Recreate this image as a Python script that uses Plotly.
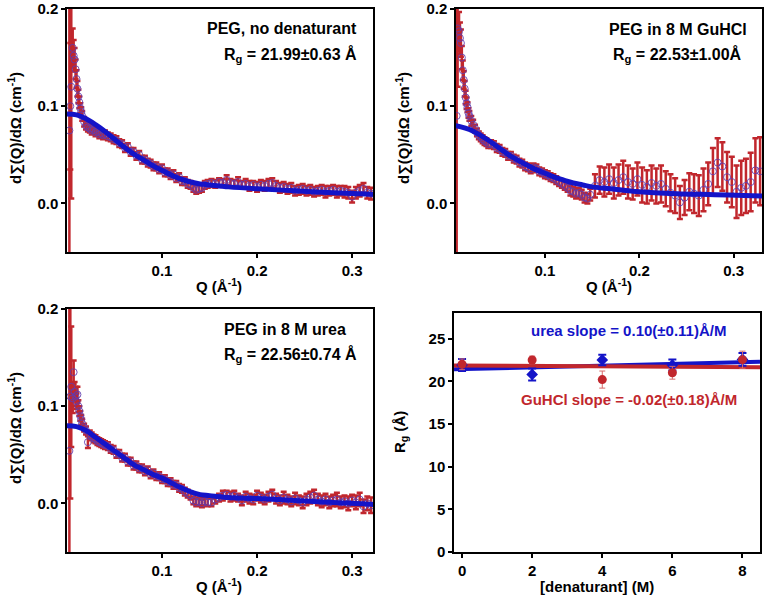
import plotly.graph_objects as go

RED = "#c1272d"
BLUE = "#1414c8"
MARK = "rgba(95,60,175,0.85)"
FONT = "Liberation Sans"

# Q grid (1/A) for the no-denaturant and urea curves
q_a = [0.0025, 0.0035, 0.0045,
       0.006, 0.007, 0.008, 0.009, 0.010, 0.011, 0.012, 0.013, 0.014, 0.015, 0.016,
       0.018, 0.020, 0.022, 0.024, 0.026, 0.028, 0.030, 0.032, 0.034, 0.036, 0.038, 0.040,
       0.043, 0.046, 0.049, 0.052, 0.055, 0.058, 0.061, 0.064, 0.067, 0.070, 0.073, 0.076,
       0.079, 0.082, 0.085, 0.088, 0.091, 0.094, 0.097, 0.100, 0.103, 0.106, 0.109, 0.112,
       0.115, 0.118, 0.121, 0.124, 0.127, 0.130, 0.133, 0.136, 0.139, 0.142, 0.145, 0.148,
       0.152, 0.156, 0.160, 0.164, 0.168, 0.172, 0.176, 0.180, 0.184, 0.188, 0.192, 0.196,
       0.200, 0.204, 0.208, 0.212, 0.216, 0.220, 0.224, 0.228, 0.232, 0.236, 0.240, 0.244,
       0.248, 0.252, 0.256, 0.260, 0.264, 0.268, 0.272, 0.276, 0.280, 0.284, 0.288, 0.292,
       0.296, 0.300, 0.304, 0.308, 0.312, 0.316, 0.320]

# PEG, no denaturant
i_none = [0.075, 0.100, 0.120,
          0.160, 0.152, 0.148, 0.138, 0.128, 0.118, 0.110, 0.104, 0.098, 0.094, 0.090,
          0.084, 0.080, 0.078, 0.077, 0.075, 0.076, 0.073, 0.074, 0.071, 0.072, 0.070, 0.071,
          0.069, 0.068, 0.066, 0.065, 0.062, 0.061, 0.057, 0.058, 0.053, 0.053, 0.049, 0.050,
          0.045, 0.045, 0.042, 0.041, 0.038, 0.038, 0.035, 0.036, 0.032, 0.032, 0.029, 0.030,
          0.026, 0.027, 0.023, 0.023, 0.020, 0.019, 0.016, 0.014, 0.015, 0.016, 0.019, 0.020,
          0.021, 0.020, 0.022, 0.021, 0.024, 0.021, 0.020, 0.022, 0.019, 0.020, 0.018, 0.019,
          0.017, 0.019, 0.018, 0.020, 0.021, 0.018, 0.016, 0.017, 0.015, 0.016, 0.013, 0.014,
          0.015, 0.013, 0.014, 0.012, 0.013, 0.014, 0.012, 0.013, 0.014, 0.012, 0.013, 0.012,
          0.011, 0.007, 0.011, 0.013, 0.015, 0.011, 0.010]
e_none = [0.300, 0.065, 0.115,
          0.020, 0.016, 0.012, 0.010, 0.009, 0.008, 0.007, 0.006, 0.005, 0.005, 0.005,
          0.005, 0.004, 0.004, 0.004, 0.004, 0.004, 0.004, 0.004, 0.004, 0.004, 0.004, 0.004,
          0.004, 0.004, 0.004, 0.004, 0.004, 0.004, 0.004, 0.004, 0.004, 0.004, 0.004, 0.004,
          0.004, 0.004, 0.004, 0.004, 0.004, 0.004, 0.004, 0.004, 0.004, 0.004, 0.004, 0.004,
          0.004, 0.004, 0.004, 0.004, 0.004, 0.004, 0.004, 0.004, 0.004, 0.004, 0.004, 0.004,
          0.004, 0.004, 0.004, 0.004, 0.005, 0.004, 0.004, 0.005, 0.004, 0.005, 0.005, 0.004,
          0.005, 0.005, 0.005, 0.005, 0.005, 0.005, 0.005, 0.005, 0.005, 0.005, 0.005, 0.005,
          0.005, 0.005, 0.005, 0.005, 0.005, 0.005, 0.006, 0.005, 0.005, 0.006, 0.005, 0.006,
          0.006, 0.006, 0.006, 0.006, 0.006, 0.006, 0.006]

# PEG in 8 M urea
i_urea = [0.054, 0.110, 0.120,
          0.108, 0.135, 0.115, 0.110, 0.105, 0.112, 0.100, 0.095, 0.090, 0.086, 0.082,
          0.078, 0.075, 0.063, 0.071, 0.069, 0.067, 0.066, 0.064, 0.063, 0.062, 0.061, 0.060,
          0.059, 0.056, 0.055, 0.051, 0.051, 0.047, 0.047, 0.043, 0.043, 0.039, 0.039, 0.036,
          0.036, 0.033, 0.034, 0.030, 0.031, 0.028, 0.028, 0.025, 0.025, 0.022, 0.022, 0.019,
          0.019, 0.016, 0.015, 0.012, 0.010, 0.008, 0.003, 0.001, 0.002, 0.000, 0.002, 0.001,
          0.001, 0.004, 0.006, 0.008, 0.009, 0.007, 0.008, 0.006, 0.003, 0.007, 0.005, 0.004,
          0.008, 0.006, 0.004, 0.007, 0.009, 0.005, 0.003, 0.006, 0.004, 0.002, 0.005, 0.003,
          0.001, 0.004, 0.006, 0.008, 0.004, 0.002, 0.004, 0.001, 0.003, 0.004, 0.001, 0.002,
          0.000, 0.003, 0.001, 0.004, -0.003, 0.000, -0.002]
e_urea = [0.300, 0.105, 0.062,
          0.015, 0.012, 0.010, 0.010, 0.008, 0.008, 0.006, 0.005, 0.005, 0.005, 0.005,
          0.004, 0.004, 0.006, 0.004, 0.004, 0.004, 0.004, 0.004, 0.004, 0.004, 0.004, 0.004,
          0.004, 0.004, 0.004, 0.004, 0.004, 0.004, 0.004, 0.004, 0.004, 0.004, 0.004, 0.004,
          0.004, 0.004, 0.004, 0.004, 0.004, 0.004, 0.004, 0.004, 0.004, 0.004, 0.004, 0.004,
          0.004, 0.004, 0.004, 0.004, 0.004, 0.004, 0.004, 0.004, 0.004, 0.004, 0.004, 0.004,
          0.004, 0.004, 0.004, 0.005, 0.004, 0.005, 0.005, 0.004, 0.005, 0.005, 0.005, 0.005,
          0.005, 0.005, 0.005, 0.005, 0.005, 0.005, 0.005, 0.006, 0.005, 0.005, 0.006, 0.005,
          0.006, 0.006, 0.006, 0.006, 0.006, 0.006, 0.006, 0.006, 0.006, 0.007, 0.006, 0.006,
          0.007, 0.006, 0.007, 0.007, 0.007, 0.007, 0.008]

# PEG in 8 M GuHCl (own Q grid, coarser at high Q)
q_b = [0.0065, 0.0075,
       0.009, 0.010, 0.011, 0.012, 0.013, 0.014, 0.015, 0.016, 0.017, 0.018, 0.019, 0.020,
       0.022, 0.024, 0.026, 0.028, 0.030, 0.032, 0.034, 0.036, 0.038, 0.040,
       0.043, 0.046, 0.049, 0.052, 0.055, 0.058, 0.061, 0.064, 0.067, 0.070, 0.073, 0.076,
       0.079, 0.082, 0.085, 0.088, 0.091, 0.094, 0.097, 0.100, 0.103, 0.106, 0.109, 0.112,
       0.115, 0.118, 0.121, 0.124, 0.127, 0.130, 0.133, 0.136, 0.139, 0.142, 0.145, 0.148,
       0.153, 0.158, 0.163, 0.168, 0.173, 0.178, 0.183, 0.188, 0.193, 0.198, 0.203, 0.208,
       0.213, 0.218, 0.223, 0.228, 0.233, 0.238, 0.243, 0.248, 0.253, 0.258, 0.263, 0.268,
       0.273, 0.278, 0.283, 0.288, 0.293, 0.298, 0.303, 0.308, 0.313, 0.318, 0.323, 0.328]
i_gu = [0.090, 0.180,
        0.177, 0.170, 0.165, 0.150, 0.137, 0.127, 0.118, 0.109, 0.103, 0.099, 0.093, 0.090,
        0.085, 0.081, 0.077, 0.073, 0.070, 0.068, 0.066, 0.064, 0.063, 0.061,
        0.061, 0.060, 0.057, 0.056, 0.053, 0.052, 0.049, 0.049, 0.046, 0.045, 0.042, 0.041,
        0.038, 0.037, 0.035, 0.037, 0.036, 0.033, 0.032, 0.030, 0.029, 0.027, 0.026, 0.024,
        0.022, 0.020, 0.018, 0.016, 0.013, 0.012, 0.010, 0.011, 0.009, 0.006, 0.005, 0.009,
        0.018, 0.024, 0.022, 0.025, 0.021, 0.024, 0.027, 0.022, 0.020, 0.025, 0.019, 0.017,
        0.021, 0.018, 0.020, 0.015, 0.011, 0.008, 0.001, 0.006, 0.012, 0.010, 0.008, 0.014,
        0.020, 0.033, 0.042, 0.038, 0.027, 0.022, 0.012, 0.016, 0.018, 0.022, 0.034, 0.033]
e_gu = [0.250, 0.060,
        0.020, 0.016, 0.014, 0.012, 0.010, 0.009, 0.008, 0.007, 0.006, 0.005, 0.005, 0.005,
        0.005, 0.005, 0.004, 0.004, 0.004, 0.004, 0.004, 0.004, 0.004, 0.004,
        0.004, 0.004, 0.004, 0.004, 0.004, 0.004, 0.004, 0.004, 0.004, 0.004, 0.004, 0.004,
        0.004, 0.004, 0.004, 0.004, 0.004, 0.004, 0.004, 0.004, 0.004, 0.004, 0.004, 0.004,
        0.004, 0.004, 0.004, 0.004, 0.005, 0.005, 0.005, 0.005, 0.005, 0.005, 0.005, 0.006,
        0.012, 0.014, 0.015, 0.015, 0.016, 0.016, 0.017, 0.017, 0.016, 0.017, 0.018, 0.017,
        0.018, 0.018, 0.019, 0.018, 0.019, 0.018, 0.017, 0.018, 0.019, 0.020, 0.021, 0.022,
        0.022, 0.024, 0.025, 0.025, 0.026, 0.026, 0.027, 0.028, 0.028, 0.030, 0.033, 0.035]

# fitted curves (blue)
fit_q = [0.0, 0.01, 0.02, 0.03, 0.04, 0.05, 0.06, 0.07, 0.08, 0.09, 0.10,
         0.11, 0.12, 0.13, 0.14, 0.15, 0.17, 0.20, 0.24, 0.28, 0.32, 0.33]
fit_none = [0.092, 0.091, 0.087, 0.081, 0.074, 0.066, 0.058, 0.051, 0.045, 0.039, 0.034,
            0.029, 0.025, 0.022, 0.020, 0.019, 0.017, 0.015, 0.013, 0.011, 0.0095, 0.009]
fit_gu = [0.081, 0.079, 0.076, 0.071, 0.065, 0.058, 0.051, 0.045, 0.040, 0.035, 0.031,
          0.027, 0.024, 0.021, 0.019, 0.017, 0.015, 0.012, 0.010, 0.009, 0.0078, 0.0075]
fit_urea = [0.080, 0.079, 0.075, 0.068, 0.061, 0.054, 0.047, 0.040, 0.035, 0.030, 0.026,
            0.021, 0.016, 0.012, 0.009, 0.008, 0.006, 0.005, 0.003, 0.001, -0.001, -0.002]

# Rg vs denaturant concentration
denat = [0, 2, 4, 6, 8]
rg_urea = [21.9, 20.8, 22.5, 21.9, 22.56]
rg_urea_err = [0.7, 0.7, 0.62, 0.65, 0.74]
rg_gu = [21.99, 22.5, 20.2, 21.0, 22.53]
rg_gu_err = [0.63, 0.45, 1.0, 0.75, 1.0]
line_x = [-0.23, 8.5]
urea_line = [21.4, 22.3]
gu_line = [21.85, 21.65]

W, H = 765, 596


def px(x):
    return x / W


def py(y):
    return 1 - y / H


fig = go.Figure()

panels = [
    ("x", "y", q_a, i_none, e_none, fit_none),
    ("x2", "y2", q_b, i_gu, e_gu, fit_gu),
    ("x3", "y3", q_a, i_urea, e_urea, fit_urea),
]
for xa, ya, q, i, e, f in panels:
    fig.add_trace(go.Scatter(
        x=q, y=i, mode="markers", xaxis=xa, yaxis=ya, showlegend=False,
        marker=dict(symbol="circle-open", size=7, color=MARK, line=dict(width=1)),
        error_y=dict(type="data", array=e, color=RED, thickness=2.5, width=3)))
    fig.add_trace(go.Scatter(
        x=fit_q, y=f, mode="lines", xaxis=xa, yaxis=ya, showlegend=False,
        line=dict(color=BLUE, width=5, shape="spline")))

fig.add_trace(go.Scatter(x=line_x, y=urea_line, mode="lines", xaxis="x4", yaxis="y4",
                         showlegend=False, line=dict(color=BLUE, width=4)))
fig.add_trace(go.Scatter(x=line_x, y=gu_line, mode="lines", xaxis="x4", yaxis="y4",
                         showlegend=False, line=dict(color=RED, width=4)))
fig.add_trace(go.Scatter(
    x=denat, y=rg_urea, mode="markers", xaxis="x4", yaxis="y4", showlegend=False,
    marker=dict(symbol="diamond", size=9, color=BLUE),
    error_y=dict(type="data", array=rg_urea_err, color=BLUE, thickness=2, width=4)))
fig.add_trace(go.Scatter(
    x=denat, y=rg_gu, mode="markers", xaxis="x4", yaxis="y4", showlegend=False,
    marker=dict(symbol="circle", size=9, color=RED),
    error_y=dict(type="data", array=rg_gu_err, color="#d86a6a", thickness=1, width=3)))

tickfont = dict(family=FONT, size=15, color="black", weight="bold")


def axis(dom, rng, tv, tt, anchor):
    return dict(domain=dom, range=rng, tickvals=tv, ticktext=tt, anchor=anchor,
                automargin=False,
                showline=True, mirror=True, linecolor="black", linewidth=1.5,
                ticks="outside", ticklen=4, tickwidth=1.5, tickcolor="black",
                showgrid=False, zeroline=False, tickfont=tickfont)


qx = [0.1, 0.2, 0.3]
qt = ["0.1", "0.2", "0.3"]
iy = [0.0, 0.1, 0.2]
it = ["0.0", "0.1", "0.2"]
left = [px(67), px(373)]
right = [px(456), px(762)]
top = [py(252), py(9)]
bottom = [py(552), py(309)]

fig.update_layout(
    width=W, height=H, margin=dict(l=0, r=0, t=0, b=0),
    paper_bgcolor="white", plot_bgcolor="white",
    xaxis=axis(left, [0.0, 0.322], qx, qt, "y"),
    yaxis=axis(top, [-0.05, 0.2], iy, it, "x"),
    xaxis2=axis(right, [0.0058, 0.330], qx, qt, "y2"),
    yaxis2=axis(top, [-0.05, 0.2], iy, it, "x2"),
    xaxis3=axis(left, [0.0, 0.322], qx, qt, "y3"),
    yaxis3=axis(bottom, [-0.05, 0.2], iy, it, "x3"),
    xaxis4=axis([px(454), px(760)], [-0.23, 8.5], [0, 2, 4, 6, 8],
                ["0", "2", "4", "6", "8"], "y4"),
    yaxis4=axis([py(552), py(313)], [0, 28], [0, 5, 10, 15, 20, 25],
                ["0", "5", "10", "15", "20", "25"], "x4"),
)


def note(text, x, y, size=15, color="black", angle=0, xanchor="center"):
    fig.add_annotation(text=text, x=px(x), y=py(y), xref="paper", yref="paper",
                       showarrow=False, textangle=angle, xanchor=xanchor,
                       yanchor="middle",
                       font=dict(family=FONT, size=size, color=color, weight="bold"))


ytitle = "d∑(Q)/dΩ (cm<sup>-1</sup>)"
xtitle = "Q (Å<sup>-1</sup>)"
note(ytitle, 15, 128, angle=-90)
note(ytitle, 403, 128, angle=-90)
note(ytitle, 15, 428, angle=-90)
note("R<sub>g</sub> (Å)", 400, 432, angle=-90)
note(xtitle, 219, 285)
note(xtitle, 609, 285)
note(xtitle, 219, 585)
note("[denaturant] (M)", 597, 586)

note("PEG, no denaturant", 205, 29, size=16, xanchor="left")
note("R<sub>g</sub> = 21.99±0.63 Å", 222, 55, size=16, xanchor="left")
note("PEG in 8 M GuHCl", 607, 30, size=16, xanchor="left")
note("R<sub>g</sub> = 22.53±1.00Å", 611, 55, size=16, xanchor="left")
note("PEG in 8 M urea", 222, 329, size=16, xanchor="left")
note("R<sub>g</sub> = 22.56±0.74 Å", 222, 355, size=16, xanchor="left")

note("urea slope = 0.10(±0.11)Å/M", 628, 330, color=BLUE)
note("GuHCl slope = -0.02(±0.18)Å/M", 629, 399, color=RED)

# the page body has a default 8px margin; remove it so the figure fills the window
fig.write_html("out.html", config={"displayModeBar": False},
               post_script="document.body.style.margin='0';"
                           "document.body.style.overflow='hidden';")
